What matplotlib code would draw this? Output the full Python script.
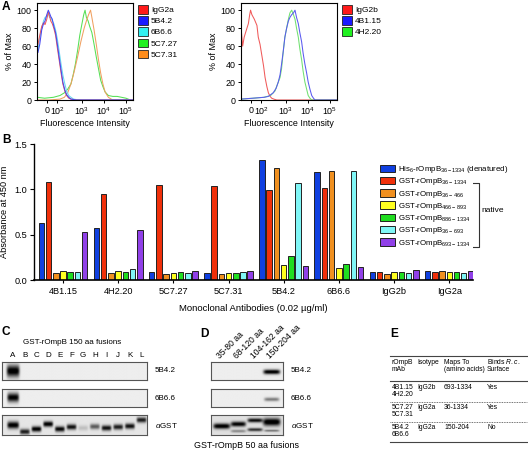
import numpy as np
import matplotlib
matplotlib.use('Agg')
import matplotlib.pyplot as plt
from matplotlib.patches import Patch

plt.rcParams['font.family'] = ['Liberation Sans', 'DejaVu Sans']
plt.rcParams['mathtext.fontset'] = 'custom'
plt.rcParams['mathtext.rm'] = 'Liberation Sans'
plt.rcParams['mathtext.it'] = 'Liberation Sans:italic'
plt.rcParams['mathtext.bf'] = 'Liberation Sans:bold'
plt.rcParams['font.size'] = 6.4
plt.rcParams['axes.linewidth'] = 0.8

# ---------------- DATA ----------------
# Panel A : flow cytometry histograms (x in display-decade units, y = % of max)
flow_tick_pos = [1.40, 1.88, 3, 4, 5]
flow_tick_labels = ['0', '10$^2$', '10$^3$', '10$^4$', '10$^5$']

a1_x_low = [1.0, 1.08, 1.17, 1.25, 1.32, 1.40, 1.47, 1.52, 1.58, 1.65, 1.72, 1.80,
            1.88, 1.96, 2.05, 2.13, 2.22, 2.30, 2.40, 2.50, 2.62, 2.75, 3.0, 5.3]
igg2a_y = [62, 72, 82, 86, 84, 90, 98, 94, 88, 85, 80, 72, 58, 45, 30, 18, 10, 5, 2, 1, 0.5, 0, 0, 0]
mab_5b42_y = [53, 62, 78, 85, 88, 95, 100, 97, 93, 90, 82, 75, 62, 48, 33, 20, 11, 6, 3, 1, 0.5, 0, 0, 0]
mab_6b66_y = [55, 70, 80, 88, 92, 93, 96, 92, 92, 88, 85, 78, 68, 55, 40, 28, 18, 10, 5, 3, 1, 0.5, 0, 0]
mab_5c727_x = [0.97, 1.3, 1.7, 2.0, 2.2, 2.35, 2.5, 2.6, 2.7, 2.8, 2.9, 3.0, 3.08, 3.14, 3.2,
               3.28, 3.35, 3.45, 3.55, 3.65, 3.75, 3.85, 3.95, 4.05, 4.2, 4.4, 4.6, 4.8, 5.0, 5.2, 5.32]
mab_5c727_y = [3, 2, 3, 5, 8, 12, 18, 28, 40, 55, 72, 85, 95, 100, 92, 88, 82, 75, 62, 48,
               35, 22, 15, 9, 5, 4, 4, 3, 2, 0, 0]
mab_5c731_x = [0.97, 1.5, 2.0, 2.2, 2.35, 2.5, 2.65, 2.8, 2.95, 3.1, 3.2, 3.3, 3.39, 3.45,
               3.55, 3.65, 3.75, 3.85, 3.95, 4.05, 4.2, 4.4, 5.32]
mab_5c731_y = [0, 0, 1, 3, 8, 18, 32, 48, 65, 80, 88, 95, 100, 92, 78, 62, 45, 30, 18, 9, 3, 0, 0]

igg2b_x = [0.96, 0.96, 1.03, 1.1, 1.2, 1.29, 1.35, 1.39, 1.45, 1.56, 1.68, 1.74, 1.82, 1.90,
           1.98, 2.05, 2.13, 2.20, 2.28, 2.35, 2.45, 2.58, 3.0, 5.3]
igg2b_y = [0, 80, 60, 70, 78, 85, 95, 100, 95, 90, 83, 70, 62, 50, 38, 25, 15, 8, 4, 2, 1, 0, 0, 0]
mab_4b115_x = [0.96, 1.5, 2.0, 2.2, 2.42, 2.55, 2.65, 2.73, 2.8, 2.88, 2.95, 3.03, 3.11, 3.18,
               3.26, 3.34, 3.41, 3.48, 3.56, 3.63, 3.71, 3.78, 3.86, 3.94, 4.01, 4.09, 4.17,
               4.25, 4.32, 5.32]
mab_4b115_y = [1, 2, 3, 4, 8, 13, 20, 28, 40, 55, 70, 80, 88, 92, 95, 97, 100, 92, 85, 75, 65,
               52, 40, 30, 20, 12, 5, 2, 0, 0]
mab_4h220_x = [0.96, 1.5, 2.0, 2.3, 2.5, 2.62, 2.73, 2.8, 2.88, 2.95, 3.03, 3.11, 3.18, 3.26,
               3.34, 3.41, 3.48, 3.56, 3.63, 3.71, 3.78, 3.86, 3.94, 4.01, 4.09, 4.17, 5.32]
mab_4h220_y = [1, 2, 3, 5, 10, 18, 25, 35, 55, 70, 80, 90, 97, 100, 95, 90, 80, 70, 57, 45,
               32, 20, 12, 5, 2, 0, 0]

# Panel B : ELISA absorbance
antibodies = ['4B1.15', '4H2.20', '5C7.27', '5C7.31', '5B4.2', '6B6.6', 'IgG2b', 'IgG2a']
his_36_1334 = [0.63, 0.57, 0.09, 0.08, 1.32, 1.19, 0.09, 0.10]
gst_36_1334 = [1.08, 0.95, 1.05, 1.04, 0.99, 1.01, 0.09, 0.09]
gst_36_466 = [0.075, 0.08, 0.07, 0.067, 1.24, 1.20, 0.07, 0.10]
gst_466_893 = [0.10, 0.10, 0.08, 0.08, 0.16, 0.13, 0.09, 0.09]
gst_886_1334 = [0.09, 0.09, 0.09, 0.08, 0.26, 0.18, 0.09, 0.09]
gst_36_693 = [0.09, 0.12, 0.08, 0.09, 1.07, 1.20, 0.08, 0.08]
gst_693_1334 = [0.53, 0.55, 0.10, 0.10, 0.15, 0.14, 0.11, 0.10]
b_labels = ['His$_6$-rOmpB$_{36-1334}$ (denatured)', 'GST-rOmpB$_{36-1334}$',
            'GST-rOmpB$_{36-466}$', 'GST-rOmpB$_{466-893}$', 'GST-rOmpB$_{886-1334}$',
            'GST-rOmpB$_{36-693}$', 'GST-rOmpB$_{693-1334}$']

# Panel C : western blots, 150 aa fusions
c_lanes = list('ABCDEFGHIJKL')
c_5b42 = [1.0, 0, 0, 0, 0, 0, 0, 0, 0, 0, 0, 0]
c_6b66 = [0.95, 0, 0, 0, 0, 0, 0, 0, 0, 0, 0, 0]
c_gst = [0.95, 0.8, 0.95, 0.95, 0.9, 0.85, 0.15, 0.55, 0.85, 0.8, 0.85, 0.8]
c_gst_pos = [0.53, 0.85, 0.72, 0.48, 0.72, 0.62, 0.67, 0.6, 0.67, 0.62, 0.58, 0.28]

# Panel D : western blots, 50 aa fusions
d_lanes = ['35-80 aa', '68-120 aa', '104-162 aa', '150-204 aa']
d_5b42 = [0, 0, 0, 1.0]
d_6b66 = [0, 0, 0, 0.45]
d_gst_upper = [0.95, 0.9, 0.85, 1.0]
d_gst_upper_pos = [0.58, 0.48, 0.3, 0.38]
d_gst_lower = [0.0, 0.35, 0.7, 0.45]
d_gst_lower_pos = [0.85, 0.82, 0.75, 0.8]

# Panel E : table
tbl_header = [['rOmpB', 'mAb'], ['Isotype', ''], ['Maps To', '(amino acids)'],
              ['Binds $\\it{R.c.}$', 'Surface']]
tbl_mab = [['4B1.15', '4H2.20'], ['5C7.27', '5C7.31'], ['5B4.2', '6B6.6']]
tbl_isotype = ['IgG2b', 'IgG2a', 'IgG2a']
tbl_maps = ['693-1334', '36-1334', '150-204']
tbl_binds = ['Yes', 'Yes', 'No']

# ---------------- FIGURE ----------------
W, H = 528, 455
fig = plt.figure(figsize=(W / 100, H / 100), dpi=100)


def add_ax(x0, y0, x1, y1):
    return fig.add_axes([x0 / W, 1 - y1 / H, (x1 - x0) / W, (y1 - y0) / H])


ann = fig.add_axes([0, 0, 1, 1])
ann.set_xlim(0, W)
ann.set_ylim(H, 0)
ann.axis('off')

E_X = 390
# panel letters
for letter, (lx, ly) in zip('ABCDE', [(2, 7), (2, 140), (2, 332), (200, 334), (E_X, 334)]):
    ann.text(lx, ly, letter, fontsize=8.6, fontweight='bold', ha='left', va='center')


# ---- Panel A ----
def flow_panel(x0, xs_list, ys_list, line_colors, leg_colors, labels):
    ax = add_ax(x0, 3, x0 + 96, 100)
    for xs, ys, c in zip(xs_list, ys_list, line_colors):
        ax.plot(xs, ys, color=c, lw=0.75)
    ax.set_xlim(0.955, 5.32)
    ax.set_ylim(0, 108)
    ax.set_yticks([0, 20, 40, 60, 80, 100])
    ax.set_xticks(flow_tick_pos)
    ax.set_xticklabels(flow_tick_labels)
    ax.tick_params(length=2.5, width=0.7, pad=1.5, labelsize=6.4)
    ax.set_ylabel('% of Max', fontsize=6.4, labelpad=2)
    ax.set_xlabel('Fluorescence Intensity', fontsize=6.4, labelpad=1)
    handles = [Patch(facecolor=c, edgecolor='#222222', lw=0.6) for c in leg_colors]
    ax.legend(handles, labels, loc='upper left', bbox_to_anchor=((x0 + 101) / W, 1 - 5 / H),
              bbox_transform=fig.transFigure, frameon=False, fontsize=6.0,
              handlelength=1.2, handleheight=1.2, handletextpad=0.35,
              labelspacing=0.25, borderpad=0, borderaxespad=0)
    return ax


flow_panel(37,
           [mab_5c727_x, mab_5c731_x, a1_x_low, a1_x_low, a1_x_low],
           [mab_5c727_y, mab_5c731_y, mab_6b66_y, igg2a_y, mab_5b42_y],
           ['#55e055', '#f0a060', '#6ad8f0', '#f05a5a', '#4848f0'],
           ['#ff1a1a', '#1a1aff', '#30f0f0', '#20f020', '#ff8c1a'],
           ['IgG2a', '5B4.2', '6B6.6', '5C7.27', '5C7.31'])
flow_panel(241,
           [igg2b_x, mab_4h220_x, mab_4b115_x],
           [igg2b_y, mab_4h220_y, mab_4b115_y],
           ['#f05a5a', '#70e070', '#5a5af0'],
           ['#ff1a1a', '#1a1aff', '#20f020'],
           ['IgG2b', '4B1.15', '4H2.20'])

# ---- Panel B ----
axb = add_ax(34, 144, 473, 280)
series = [his_36_1334, gst_36_1334, gst_36_466, gst_466_893, gst_886_1334, gst_36_693, gst_693_1334]
bar_colors = ['#1040e0', '#f0300a', '#f09020', '#ffff20', '#20dd20', '#80f6f6', '#9040e8']
x = np.arange(len(antibodies))
step = 0.131
for i, (vals, col, lab) in enumerate(zip(series, bar_colors, b_labels)):
    axb.bar(x + (i - 3) * step, vals, width=0.1, color=col, edgecolor='#222222',
            linewidth=0.7, label=lab)
axb.set_xlim(-0.525, 7.43)
axb.set_ylim(0, 1.5)
axb.set_yticks([0, 0.5, 1.0, 1.5])
axb.set_yticklabels(['0.0', '0.5', '1.0', '1.5'])
axb.set_xticks(x)
axb.set_xticklabels(antibodies)
axb.spines['top'].set_visible(False)
axb.spines['right'].set_visible(False)
axb.spines['left'].set_linewidth(1.0)
axb.spines['bottom'].set_linewidth(1.2)
axb.tick_params(axis='y', length=3, width=0.8, pad=2, labelsize=6.6)
axb.tick_params(axis='x', length=2, width=0.8, pad=3, labelsize=6.6)
axb.set_ylabel('Absorbance at 450 nm', fontsize=6.6, labelpad=4)
axb.set_xlabel('Monoclonal Antibodies (0.02 \u00b5g/ml)', fontsize=6.8, labelpad=6)
axb.legend(loc='upper left', bbox_to_anchor=(380 / W, 1 - 164 / H),
           bbox_transform=fig.transFigure, frameon=False, fontsize=5.7,
           handlelength=1.85, handleheight=1.1, handletextpad=0.45, labelspacing=0.16,
           borderpad=0, borderaxespad=0)
# bracket for "native"
ann.plot([470, 479, 479, 470], [183, 183, 247, 247], color='#333333', lw=0.8)
ann.text(481, 211, 'native', fontsize=6.0, ha='left', va='center')


# ---- Blots (C and D) ----
def draw_blot(y0, y1, x0, x1, xlim, lanes_pos, band_int, band_y, hw, hh, bg):
    ax = add_ax(x0, y0, x1, y1)
    nx, ny = 400, 60
    X = np.linspace(xlim[0], xlim[1], nx)[None, :]
    Y = np.linspace(0, 1, ny)[:, None]
    img = np.full((ny, nx), bg)
    for lp, it, yc, w, h in zip(lanes_pos, band_int, band_y, hw, hh):
        if it <= 0:
            continue
        img = img - it * np.exp(-((X - lp) / w) ** 6) * np.exp(-((Y - yc) / h) ** 2)
    img = np.clip(img, 0, 1)
    ax.imshow(img, cmap='gray', vmin=0, vmax=1, aspect='auto',
              extent=(xlim[0], xlim[1], 1, 0), interpolation='bilinear')
    ax.set_xlim(*xlim)
    ax.set_ylim(1, 0)
    ax.set_yticks([])
    ax.set_xticks([])
    for s in ax.spines.values():
        s.set_color('#555555')
        s.set_linewidth(0.8)
    return ax


c_x = np.arange(len(c_lanes))
c_xlim = (-0.94, 11.45)
c_rows = [(362, 380), (389, 407), (415, 435)]
axc1 = draw_blot(*c_rows[0], 2, 147, c_xlim, c_x, c_5b42, [0.5] * 12,
                 [0.55] * 12, [0.33] * 12, 0.93)
draw_blot(*c_rows[1], 2, 147, c_xlim, c_x, c_6b66, [0.5] * 12,
          [0.5] * 12, [0.24] * 12, 0.93)
draw_blot(*c_rows[2], 2, 147, c_xlim, c_x, c_gst, c_gst_pos,
          [0.5] + [0.42] * 11, [0.17] + [0.13] * 11, 0.9)
axc1.xaxis.set_ticks_position('top')
axc1.set_xticks(c_x)
axc1.set_xticklabels(c_lanes, fontsize=5.8)
axc1.tick_params(axis='x', length=0, pad=2.5)
ann.text(72, 343, 'GST-rOmpB 150 aa fusions', fontsize=5.8, ha='center', va='center')

d_x = np.arange(len(d_lanes))
d_xlim = (-0.64, 3.67)
axd1 = draw_blot(*c_rows[0], 211, 283, d_xlim, d_x, d_5b42, [0.55] * 4,
                 [0.5] * 4, [0.13] * 4, 0.93)
draw_blot(*c_rows[1], 211, 283, d_xlim, d_x, d_6b66, [0.6] * 4,
          [0.45] * 4, [0.1] * 4, 0.93)
draw_blot(*c_rows[2], 211, 283, d_xlim,
          list(d_x) + list(d_x), d_gst_upper + d_gst_lower,
          d_gst_upper_pos + d_gst_lower_pos,
          [0.5, 0.45, 0.45, 0.52, 0.45, 0.45, 0.45, 0.45],
          [0.13, 0.12, 0.1, 0.18, 0.06, 0.07, 0.08, 0.05], 0.88)
axd1.xaxis.set_ticks_position('top')
axd1.set_xticks(d_x)
axd1.set_xticklabels(d_lanes, fontsize=6.2, rotation=45, ha='left',
                     rotation_mode='anchor')
axd1.tick_params(axis='x', length=0, pad=1)

for lab, (ya, yb) in zip(['5B4.2', '6B6.6', '$\\alpha$GST'], c_rows):
    ann.text(155, (ya + yb) / 2, lab, fontsize=5.8, ha='left', va='center')
    ann.text(291, (ya + yb) / 2, lab, fontsize=5.8, ha='left', va='center')
ann.text(247, 446, 'GST-rOmpB 50 aa fusions', fontsize=6.4, ha='center', va='center')

# ---- Panel E : table ----
col_x = [E_X + 2, E_X + 27, E_X + 54, E_X + 97]
tfs = 4.9
for cx, hdr in zip(col_x, tbl_header):
    ann.text(cx, 362, hdr[0], fontsize=tfs, ha='left', va='center')
    ann.text(cx, 369.5, hdr[1], fontsize=tfs, ha='left', va='center')
row_y = [387.5, 407.5, 427.5]
for ry, mabs, iso, mp, bd in zip(row_y, tbl_mab, tbl_isotype, tbl_maps, tbl_binds):
    ann.text(col_x[0], ry, mabs[0], fontsize=tfs, ha='left', va='center')
    ann.text(col_x[0], ry + 7.5, mabs[1], fontsize=tfs, ha='left', va='center')
    ann.text(col_x[1], ry, iso, fontsize=tfs, ha='left', va='center')
    ann.text(col_x[2], ry, mp, fontsize=tfs, ha='left', va='center')
    ann.text(col_x[3], ry, bd, fontsize=tfs, ha='left', va='center')
ann.plot([E_X, 527], [356, 356], color='#444444', lw=0.8)
ann.plot([E_X, 527], [381, 381], color='#444444', lw=0.8)
ann.plot([E_X, 527], [402, 402], color='#444444', lw=0.6, ls=(0, (1, 1)))
ann.plot([E_X, 527], [421.5, 421.5], color='#444444', lw=0.6, ls=(0, (1, 1)))
ann.plot([E_X, 527], [442, 442], color='#444444', lw=0.8)

fig.savefig('out.png', dpi=100)
